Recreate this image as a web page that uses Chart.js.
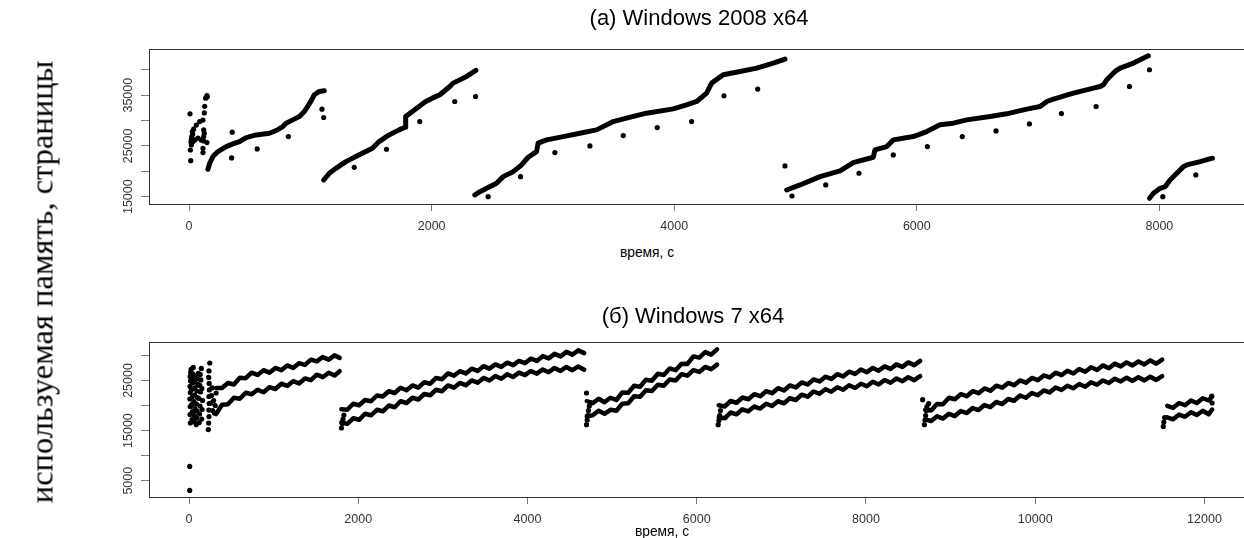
<!DOCTYPE html>
<html>
<head>
<meta charset="utf-8">
<script src="https://cdn.jsdelivr.net/npm/chart.js@4.4.1/dist/chart.umd.min.js"></script>
<style>
html, body { margin: 0; padding: 0; background: #fff; overflow: hidden; width: 1244px; height: 538px; }
.panel { position: absolute; left: 0; width: 1270px; }
.txt { position: absolute; font-family: "Liberation Sans", Arial, sans-serif; color: #000; white-space: nowrap; transform: translate(-50%, -50%); }
#ylab { position: absolute; left: 42px; top: 282px; font-family: "Liberation Serif", "Times New Roman", serif; font-size: 32.5px; white-space: nowrap; transform: translate(-50%, -50%) rotate(-90deg); }
</style>
</head>
<body>
<div class="panel" style="top:0;height:240px"><canvas id="top"></canvas></div>
<div class="panel" style="top:290px;height:248px"><canvas id="bot"></canvas></div>
<div class="txt" style="left:699px;top:18px;font-size:22px">(а) Windows 2008 x64</div>
<div class="txt" style="left:647px;top:252px;font-size:13.8px">время, с</div>
<div class="txt" style="left:693px;top:316px;font-size:22px">(б) Windows 7 x64</div>
<div class="txt" style="left:662px;top:531px;font-size:13.8px">время, с</div>
<div id="ylab">используемая память, страницы</div>
<script>
// ---- (a) Windows 2008 x64 ----
const topXTicks = [0, 2000, 4000, 6000, 8000];
const topXLabels = ["0", "2000", "4000", "6000", "8000"];
const topYTicks = [15000, 20000, 25000, 30000, 35000, 40000];
const topYLabels = ["15000", "", "25000", "", "35000", ""];

// continuous runs, null = gap between runs
const topCurveT = [
  156, 170, 197, 238, 307, 362, 416, 471, 553, 663, 718, 773, 800, 855, 910, 951, 978, 1006, 1033, 1074, 1115, null,
  1110, 1156, 1211, 1293, 1375, 1458, 1512, 1567, 1649, 1732, 1781, 1786, 1841, 1896, 1951, 2006, 2068, 2150, 2177, 2288, 2365, null,
  2356, 2398, 2453, 2535, 2590, 2672, 2741, 2796, 2865, 2878, 2948, 3085, 3222, 3360, 3497, 3607, 3772, 3992, 4102, 4185, 4267, 4308, 4404, 4542, 4680, 4817, 4913, null,
  4927, 5037, 5202, 5367, 5476, 5641, 5655, 5752, 5779, 5806, 5971, 6082, 6191, 6301, 6412, 6604, 6741, 6906, 7016, 7072, 7126, 7291, 7456, 7511, 7538, 7566, 7634, 7676, 7786, 7909, null,
  7918, 7951, 8006, 8047, 8088, 8143, 8198, 8226, 8336, 8437
];
const topCurveV = [
  20400, 21580, 22900, 23880, 24870, 25400, 25860, 26650, 27170, 27500, 28030, 28820, 29480, 30130, 30790, 31780, 32770, 33880, 35070, 35730, 35860, null,
  18290, 19600, 20590, 21910, 22900, 23880, 24540, 25860, 27170, 28160, 28690, 30790, 31780, 32770, 33750, 34410, 35070, 36700, 37370, 38680, 39870, null,
  15335, 15990, 16650, 17640, 18950, 19930, 21250, 22770, 23880, 25540, 26190, 26840, 27510, 28160, 29800, 30470, 31450, 32300, 33090, 33750, 35400, 37370, 39010, 39670, 40330, 41320, 42110, null,
  16320, 17310, 18950, 20100, 21710, 22770, 24210, 24870, 25540, 26190, 26840, 27830, 29150, 29480, 30130, 30790, 31320, 32240, 32760, 33750, 34220, 35400, 36390, 36700, 37040, 38030, 39670, 40330, 41320, 42760, null,
  14680, 15670, 16650, 16970, 18300, 19620, 20920, 21260, 21900, 22580
];
// single points
const topDotT = [
  8, 14, 11, 16, 20, 19, 22, 27, 30, 33, 38, 47, 60, 74, 88, 101, 115, 115, 115, 121, 121, 121, 126, 126, 129, 137, 148, 148, 150,
  351, 356, 562, 819, 1096, 1110, 1362, 1628, 1902, 2191, 2362, 2466, 2733, 3016, 3305, 3580, 3860, 4143, 4410, 4688,
  4913, 4971, 5249, 5523, 5806, 6087, 6375, 6653, 6928, 7192, 7478, 7753, 7918, 8028, 8300
];
const topDotV = [
  31320, 22100, 24200, 25800, 26300, 25200, 26800, 27800, 27300, 25860, 28300, 26190, 29100, 26520, 29800, 26190, 30100, 24540, 23680, 25990, 28160, 26840, 27500, 31500, 32800, 34400, 34900, 25660, 34700,
  22630, 27700, 24410, 26840, 32240, 30600, 20790, 24340, 29800, 33750, 34730, 15000, 18950, 23680, 25000, 27040, 28620, 29800, 34870, 36190,
  21060, 15140, 17310, 19620, 23230, 24870, 26840, 27960, 29340, 31380, 32760, 36700, 40000, 15000, 19280
];

// ---- (б) Windows 7 x64 ----
const botXTicks = [0, 2000, 4000, 6000, 8000, 10000, 12000];
const botXLabels = ["0", "2000", "4000", "6000", "8000", "10000", "12000"];
const botYTicks = [5000, 10000, 15000, 20000, 25000, 30000];
const botYLabels = ["5000", "", "15000", "", "25000", ""];

const botT = [
  320, 390, 460, 530, 600, 670, 740, 810, 880, 950, 1020, 1090, 1160, 1230, 1300, 1370, 1440, 1510, 1580, 1650, 1720, 1780, null,
  1800, 1870, 1940, 2010, 2080, 2150, 2220, 2290, 2360, 2430, 2500, 2570, 2640, 2710, 2780, 2850, 2920, 2990, 3060, 3130, 3200,
  3270, 3340, 3410, 3480, 3550, 3620, 3690, 3760, 3830, 3900, 3970, 4040, 4110, 4180, 4250, 4320, 4390, 4460, 4530, 4600, 4670, null,
  4700, 4770, 4840, 4910, 4980, 5050, 5120, 5190, 5260, 5330, 5400, 5470, 5540, 5610, 5680, 5750, 5820, 5890, 5960, 6030, 6100, 6170, 6240, null,
  6260, 6330, 6400, 6470, 6540, 6610, 6680, 6750, 6820, 6890, 6960, 7030, 7100, 7170, 7240, 7310, 7380, 7450, 7520, 7590, 7660, 7730,
  7800, 7870, 7940, 8010, 8080, 8150, 8220, 8290, 8360, 8430, 8500, 8570, 8640, null,
  8700, 8770, 8840, 8910, 8980, 9050, 9120, 9190, 9260, 9330, 9400, 9470, 9540, 9610, 9680, 9750, 9820, 9890, 9960, 10030, 10100,
  10170, 10240, 10310, 10380, 10450, 10520, 10590, 10660, 10730, 10800, 10870, 10940, 11010, 11080, 11150, 11220, 11290, 11360, 11430, 11500, null,
  11560, 11630, 11700, 11770, 11840, 11910, 11980, 12050, 12090
];
const botUpper = [
  23500, 23500, 24500, 24200, 25550, 25450, 26550, 26100, 27050, 26550, 27500, 27050, 28000, 27500, 28450, 28100, 29150, 28800, 29650, 29150, 30000, 29500, null,
  19250, 19150, 20350, 20050, 21100, 20850, 22000, 21800, 22850, 22500, 23550, 23050, 24000, 23550, 24650, 24350, 25500, 25250, 26400, 25950, 26850,
  26400, 27350, 26900, 27850, 27350, 28200, 27700, 28550, 28050, 28900, 28450, 29350, 28900, 29850, 29400, 30300, 29800, 30700, 30150, 31000, 30450, null,
  20900, 20450, 21350, 20650, 21550, 21100, 22600, 22550, 23950, 23750, 25150, 24950, 26350, 26100, 27400, 27050, 28350, 28300, 29800, 29550, 30650, 30150, 31200, null,
  20050, 19800, 20900, 20550, 21600, 21250, 22250, 21850, 22850, 22450, 23450, 23000, 24000, 23600, 24600, 24200, 25200, 24800, 25750, 25300, 26250, 25800,
  26750, 26300, 27200, 26650, 27500, 26950, 27800, 27300, 28200, 27700, 28600, 28050, 28900, null,
  19150, 19000, 20300, 20250, 21550, 21250, 22250, 21850, 22850, 22450, 23400, 22950, 23950, 23550, 24500, 24050, 25000, 24550, 25500, 25050, 26000,
  25600, 26550, 26050, 26950, 26400, 27300, 26750, 27650, 27100, 28000, 27450, 28350, 27800, 28600, 28000, 28800, 28200, 29000, 28350, 29150, null,
  19950, 19550, 20500, 20050, 21000, 20500, 21450, 21000, 21800
];
const botLower = [
  18300, 20150, 20250, 21550, 21350, 22550, 22250, 23150, 22650, 23650, 23300, 24350, 23900, 24850, 24400, 25400, 25050, 26150, 25650, 26550, 26000, 26850, null,
  16650, 16350, 17450, 17150, 18350, 18050, 19150, 18850, 20000, 19650, 20850, 20500, 21550, 21200, 22300, 22050, 23150, 22850, 24000, 23550, 24500,
  24050, 25000, 24550, 25500, 25000, 25900, 25350, 26250, 25700, 26550, 26050, 26900, 26350, 27200, 26650, 27500, 26900, 27700, 27050, 27800, 27150, null,
  17850, 18050, 18950, 18350, 19150, 18950, 20350, 20450, 21850, 21750, 23050, 22900, 24150, 23950, 25200, 25000, 26250, 25950, 27050, 26700, 27700, 27250, 28150, null,
  17650, 17450, 18600, 18250, 19250, 18850, 19800, 19400, 20350, 19900, 20850, 20450, 21450, 21100, 22150, 21750, 22800, 22350, 23250, 22750, 23650, 23150,
  24050, 23500, 24350, 23850, 24750, 24200, 25100, 24550, 25400, 24850, 25650, 25050, 25850, null,
  17250, 16900, 17850, 17400, 18350, 17900, 18900, 18500, 19500, 19100, 20100, 19700, 20700, 20300, 21300, 20950, 22000, 21550, 22500, 22050, 23000,
  22600, 23600, 23100, 23950, 23450, 24300, 23750, 24650, 24150, 25000, 24500, 25350, 24800, 25550, 24900, 25650, 25000, 25750, 25100, 25850, null,
  17650, 17250, 18200, 17750, 18650, 18100, 18950, 18250, 19200
];
const botDotT = [
  8, 8, 16, 12, 14, 10, 15, 12, 18, 14, 20, 25, 35, 40, 32, 38, 30, 42, 36, 45, 50,
  60, 65, 70, 58, 66, 72, 62, 75, 85, 90, 95, 88, 100, 92, 105, 98, 110,
  120, 125, 130, 118, 135, 128, 140, 132, 145, 150, 155, 160, 152,
  228, 232, 236, 234, 238, 236, 240, 238, 232, 236, 245, 258, 265, 272, 280, 290, 300, 310, 320,
  1801, 1810, 1820, 1830, 4697, 4697, 4705, 4712, 4720, 4730, 4745, 6253, 6262, 6270, 6280,
  8669, 8690, 8698, 8705, 8712, 8720, 8740, 11513, 11520, 11530, 12085, 12090
];
const botDotV = [
  3065, 7850, 16510, 18200, 19800, 21300, 22600, 23800, 24900, 25800, 26600, 27200, 17200, 18800, 20200, 21700, 23200, 24500, 25500, 26300, 27600,
  16800, 18000, 19400, 20800, 22100, 23500, 24700, 25900, 16200, 17500, 18900, 20300, 21600, 22900, 24200, 25300, 26400,
  16600, 18300, 19900, 21400, 22700, 24000, 25100, 26200, 27400, 17300, 19200, 21000, 23400,
  15200, 16500, 17800, 19100, 20400, 21800, 23100, 24400, 25600, 26900, 28480, 20500, 22000, 23500, 19000, 21000, 18500, 20000, 22500,
  15510, 16400, 17300, 18100, 22500, 16170, 17100, 18000, 19000, 19900, 20600, 16170, 17000, 18000, 19000,
  21160, 16170, 17100, 18000, 19000, 19800, 20400, 15830, 16700, 17600, 21900, 20500
];

const FONT = { family: "'Liberation Sans', Arial, sans-serif", size: 12.5 };

function pts(ts, vs) {
  return ts.map((t, i) => ({ x: t, y: t === null ? null : vs[i] }));
}

// frame around the plot region
const boxPlugin = {
  id: "box",
  afterDatasetsDraw(chart) {
    const a = chart.chartArea;
    const c = chart.ctx;
    c.save();
    c.strokeStyle = "#333";
    c.lineWidth = 1;
    c.strokeRect(Math.round(a.left) + 0.5, Math.round(a.top) + 0.5, Math.round(a.right - a.left), Math.round(a.bottom - a.top));
    c.restore();
  }
};

function lineSet(data, w) {
  return {
    data: data, showLine: true, borderColor: "#000", borderWidth: w,
    borderCapStyle: "round", borderJoinStyle: "round", pointRadius: 0, tension: 0
  };
}
function dotSet(data) {
  return { data: data, showLine: false, pointRadius: 2.6, pointBorderWidth: 0, backgroundColor: "#000" };
}

function makeChart(id, datasets, xr, yr, xTicks, xLabels, yTicks, yLabels, padTop, xH) {
  return new Chart(document.getElementById(id), {
    type: "scatter",
    data: { datasets: datasets },
    options: {
      responsive: true,
      maintainAspectRatio: false,
      animation: false,
      events: [],
      layout: { padding: { top: padTop, right: 15, left: 0, bottom: 0 } },
      plugins: { legend: { display: false }, tooltip: { enabled: false } },
      scales: {
        x: {
          type: "linear", min: xr[0], max: xr[1],
          afterBuildTicks: (s) => { s.ticks = xTicks.map((v) => ({ value: v })); },
          afterFit: (s) => { s.height = xH; },
          ticks: { callback: (v, i) => xLabels[i], autoSkip: false, maxRotation: 0, minRotation: 0, padding: 8, font: FONT, color: "#333" },
          grid: { drawOnChartArea: false, drawTicks: true, tickLength: 7, color: "#777" },
          border: { display: false }
        },
        y: {
          type: "linear", min: yr[0], max: yr[1],
          afterBuildTicks: (s) => { s.ticks = yTicks.map((v) => ({ value: v })); },
          afterFit: (s) => { s.width = 149; },
          ticks: { callback: (v, i) => yLabels[i], autoSkip: false, minRotation: 90, maxRotation: 90, crossAlign: "center", padding: -5, font: FONT, color: "#333" },
          grid: { drawOnChartArea: false, drawTicks: true, tickLength: 8, color: "#777" },
          border: { display: false }
        }
      }
    },
    plugins: [boxPlugin]
  });
}

makeChart("top",
  [lineSet(pts(topCurveT, topCurveV), 5), dotSet(pts(topDotT, topDotV))],
  [-330, 8788], [13560, 44090], topXTicks, topXLabels, topYTicks, topYLabels, 49, 36);

makeChart("bot",
  [lineSet(pts(botT, botUpper), 4.5), lineSet(pts(botT, botLower), 4.5), dotSet(pts(botDotT, botDotV))],
  [-473, 12597], [1750, 32670], botXTicks, botXLabels, botYTicks, botYLabels, 52, 41);
</script>
</body>
</html>
